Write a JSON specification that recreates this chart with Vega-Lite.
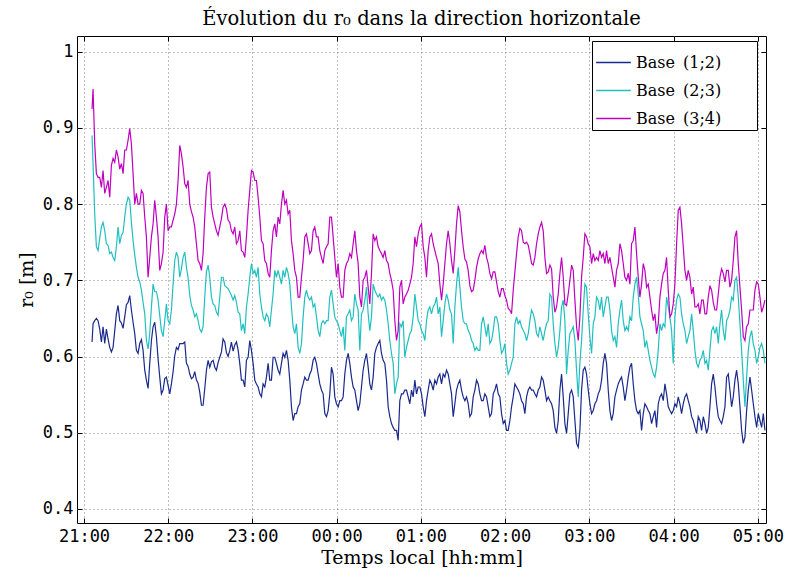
{
  "$schema": "https://vega.github.io/schema/vega-lite/v6.json",
  "width": 689,
  "height": 487,
  "autosize": {"type": "none"},
  "padding": {"left": 77, "top": 36, "right": 21, "bottom": 49},
  "background": "white",
  "title": {"text": "Évolution du r₀ dans la direction horizontale", "font": "DejaVu Serif", "fontSize": 19.5, "fontWeight": "normal", "color": "black", "anchor": "middle", "offset": 6},
  "config": {
    "view": {"stroke": "black", "strokeWidth": 1},
    "axis": {
      "labelFont": "DejaVu Sans Mono", "labelFontSize": 17, "labelColor": "black",
      "tickColor": "black", "tickWidth": 1, "domain": false,
      "titleFont": "DejaVu Serif", "titleFontSize": 19, "titleFontWeight": "normal", "titleColor": "black"
    }
  },
  "data": {"values": [
{"min":5.72,"b12":0.619,"b23":0.890,"b34":0.925},
{"min":6.44,"b12":0.643,"b23":0.853,"b34":0.951},
{"min":7.62,"b12":0.647,"b23":0.787,"b34":0.879},
{"min":8.81,"b12":0.650,"b23":0.744,"b34":0.840},
{"min":10.00,"b12":0.647,"b23":0.739,"b34":0.835},
{"min":11.19,"b12":0.636,"b23":0.755,"b34":0.835},
{"min":12.38,"b12":0.619,"b23":0.770,"b34":0.822},
{"min":13.56,"b12":0.639,"b23":0.776,"b34":0.844},
{"min":14.75,"b12":0.617,"b23":0.765,"b34":0.814},
{"min":15.94,"b12":0.636,"b23":0.748,"b34":0.822},
{"min":17.13,"b12":0.623,"b23":0.746,"b34":0.831},
{"min":18.31,"b12":0.612,"b23":0.735,"b34":0.809},
{"min":19.50,"b12":0.606,"b23":0.737,"b34":0.851},
{"min":20.69,"b12":0.612,"b23":0.730,"b34":0.860},
{"min":21.88,"b12":0.634,"b23":0.726,"b34":0.855},
{"min":23.06,"b12":0.656,"b23":0.744,"b34":0.871},
{"min":24.25,"b12":0.667,"b23":0.770,"b34":0.862},
{"min":25.44,"b12":0.647,"b23":0.748,"b34":0.846},
{"min":26.63,"b12":0.644,"b23":0.759,"b34":0.853},
{"min":27.82,"b12":0.637,"b23":0.763,"b34":0.840},
{"min":29.00,"b12":0.652,"b23":0.783,"b34":0.871},
{"min":30.19,"b12":0.668,"b23":0.800,"b34":0.871},
{"min":31.38,"b12":0.671,"b23":0.809,"b34":0.884},
{"min":32.57,"b12":0.680,"b23":0.805,"b34":0.899},
{"min":33.75,"b12":0.661,"b23":0.776,"b34":0.879},
{"min":34.94,"b12":0.645,"b23":0.752,"b34":0.840},
{"min":36.13,"b12":0.630,"b23":0.733,"b34":0.800},
{"min":37.32,"b12":0.608,"b23":0.717,"b34":0.814},
{"min":38.50,"b12":0.604,"b23":0.704,"b34":0.800},
{"min":39.69,"b12":0.617,"b23":0.698,"b34":0.800},
{"min":40.88,"b12":0.622,"b23":0.687,"b34":0.818},
{"min":42.07,"b12":0.608,"b23":0.671,"b34":0.814},
{"min":43.26,"b12":0.582,"b23":0.656,"b34":0.783},
{"min":44.44,"b12":0.569,"b23":0.621,"b34":0.757},
{"min":45.63,"b12":0.558,"b23":0.610,"b34":0.704},
{"min":46.82,"b12":0.591,"b23":0.630,"b34":0.730},
{"min":48.01,"b12":0.621,"b23":0.665,"b34":0.757},
{"min":49.19,"b12":0.639,"b23":0.695,"b34":0.774},
{"min":50.38,"b12":0.645,"b23":0.685,"b34":0.805},
{"min":51.57,"b12":0.626,"b23":0.685,"b34":0.783},
{"min":52.76,"b12":0.597,"b23":0.674,"b34":0.757},
{"min":53.94,"b12":0.573,"b23":0.654,"b34":0.713},
{"min":55.13,"b12":0.551,"b23":0.634,"b34":0.722},
{"min":56.32,"b12":0.556,"b23":0.626,"b34":0.737},
{"min":57.51,"b12":0.571,"b23":0.647,"b34":0.783},
{"min":58.69,"b12":0.573,"b23":0.669,"b34":0.800},
{"min":59.88,"b12":0.562,"b23":0.647,"b34":0.765},
{"min":61.07,"b12":0.551,"b23":0.643,"b34":0.770},
{"min":62.26,"b12":0.564,"b23":0.661,"b34":0.770},
{"min":63.45,"b12":0.580,"b23":0.695,"b34":0.779},
{"min":64.63,"b12":0.601,"b23":0.726,"b34":0.787},
{"min":65.82,"b12":0.612,"b23":0.737,"b34":0.800},
{"min":67.01,"b12":0.609,"b23":0.730,"b34":0.831},
{"min":68.20,"b12":0.617,"b23":0.704,"b34":0.877},
{"min":69.38,"b12":0.617,"b23":0.715,"b34":0.866},
{"min":70.57,"b12":0.617,"b23":0.730,"b34":0.849},
{"min":71.76,"b12":0.619,"b23":0.737,"b34":0.827},
{"min":72.95,"b12":0.591,"b23":0.717,"b34":0.822},
{"min":74.13,"b12":0.587,"b23":0.704,"b34":0.831},
{"min":75.32,"b12":0.577,"b23":0.680,"b34":0.800},
{"min":76.51,"b12":0.571,"b23":0.667,"b34":0.790},
{"min":77.70,"b12":0.573,"b23":0.661,"b34":0.783},
{"min":78.88,"b12":0.580,"b23":0.652,"b34":0.770},
{"min":80.07,"b12":0.569,"b23":0.656,"b34":0.748},
{"min":81.26,"b12":0.565,"b23":0.647,"b34":0.726},
{"min":82.45,"b12":0.553,"b23":0.636,"b34":0.722},
{"min":83.64,"b12":0.536,"b23":0.632,"b34":0.713},
{"min":84.82,"b12":0.536,"b23":0.639,"b34":0.735},
{"min":86.01,"b12":0.558,"b23":0.678,"b34":0.783},
{"min":87.20,"b12":0.582,"b23":0.711,"b34":0.822},
{"min":88.39,"b12":0.595,"b23":0.720,"b34":0.840},
{"min":89.57,"b12":0.586,"b23":0.704,"b34":0.842},
{"min":90.76,"b12":0.593,"b23":0.678,"b34":0.796},
{"min":91.95,"b12":0.595,"b23":0.669,"b34":0.783},
{"min":93.14,"b12":0.586,"b23":0.667,"b34":0.774},
{"min":94.32,"b12":0.582,"b23":0.658,"b34":0.765},
{"min":95.51,"b12":0.592,"b23":0.654,"b34":0.759},
{"min":96.70,"b12":0.599,"b23":0.678,"b34":0.770},
{"min":97.89,"b12":0.606,"b23":0.704,"b34":0.781},
{"min":99.07,"b12":0.623,"b23":0.704,"b34":0.796},
{"min":100.26,"b12":0.619,"b23":0.693,"b34":0.800},
{"min":101.45,"b12":0.605,"b23":0.691,"b34":0.794},
{"min":102.64,"b12":0.600,"b23":0.689,"b34":0.779},
{"min":103.82,"b12":0.608,"b23":0.685,"b34":0.776},
{"min":105.01,"b12":0.619,"b23":0.680,"b34":0.765},
{"min":106.20,"b12":0.607,"b23":0.674,"b34":0.761},
{"min":107.39,"b12":0.615,"b23":0.680,"b34":0.770},
{"min":108.58,"b12":0.619,"b23":0.671,"b34":0.748},
{"min":109.76,"b12":0.609,"b23":0.658,"b34":0.752},
{"min":110.95,"b12":0.591,"b23":0.656,"b34":0.765},
{"min":112.13,"b12":0.569,"b23":0.634,"b34":0.739},
{"min":113.32,"b12":0.569,"b23":0.643,"b34":0.737},
{"min":114.51,"b12":0.560,"b23":0.630,"b34":0.730},
{"min":115.70,"b12":0.595,"b23":0.665,"b34":0.757},
{"min":116.88,"b12":0.599,"b23":0.682,"b34":0.792},
{"min":118.07,"b12":0.621,"b23":0.704,"b34":0.818},
{"min":119.26,"b12":0.608,"b23":0.722,"b34":0.844},
{"min":120.45,"b12":0.591,"b23":0.709,"b34":0.842},
{"min":121.64,"b12":0.569,"b23":0.713,"b34":0.831},
{"min":122.82,"b12":0.564,"b23":0.704,"b34":0.831},
{"min":124.01,"b12":0.560,"b23":0.717,"b34":0.809},
{"min":125.20,"b12":0.551,"b23":0.682,"b34":0.783},
{"min":126.39,"b12":0.547,"b23":0.665,"b34":0.752},
{"min":127.57,"b12":0.564,"b23":0.652,"b34":0.748},
{"min":128.76,"b12":0.560,"b23":0.647,"b34":0.726},
{"min":129.95,"b12":0.573,"b23":0.656,"b34":0.722},
{"min":131.14,"b12":0.591,"b23":0.652,"b34":0.709},
{"min":132.32,"b12":0.569,"b23":0.639,"b34":0.704},
{"min":133.51,"b12":0.569,"b23":0.661,"b34":0.739},
{"min":134.70,"b12":0.599,"b23":0.682,"b34":0.765},
{"min":135.89,"b12":0.599,"b23":0.713,"b34":0.774},
{"min":137.07,"b12":0.591,"b23":0.704,"b34":0.757},
{"min":138.26,"b12":0.582,"b23":0.713,"b34":0.783},
{"min":139.45,"b12":0.577,"b23":0.704,"b34":0.774},
{"min":140.64,"b12":0.591,"b23":0.695,"b34":0.800},
{"min":141.83,"b12":0.604,"b23":0.713,"b34":0.818},
{"min":143.01,"b12":0.599,"b23":0.704,"b34":0.800},
{"min":144.20,"b12":0.608,"b23":0.717,"b34":0.805},
{"min":145.39,"b12":0.595,"b23":0.709,"b34":0.787},
{"min":146.58,"b12":0.569,"b23":0.695,"b34":0.792},
{"min":147.76,"b12":0.534,"b23":0.665,"b34":0.752},
{"min":148.95,"b12":0.516,"b23":0.639,"b34":0.735},
{"min":150.14,"b12":0.525,"b23":0.630,"b34":0.713},
{"min":151.33,"b12":0.525,"b23":0.643,"b34":0.704},
{"min":152.51,"b12":0.534,"b23":0.612,"b34":0.678},
{"min":153.70,"b12":0.538,"b23":0.604,"b34":0.678},
{"min":154.89,"b12":0.556,"b23":0.617,"b34":0.704},
{"min":156.08,"b12":0.564,"b23":0.652,"b34":0.726},
{"min":157.26,"b12":0.573,"b23":0.678,"b34":0.757},
{"min":158.45,"b12":0.569,"b23":0.687,"b34":0.761},
{"min":159.64,"b12":0.569,"b23":0.678,"b34":0.748},
{"min":160.83,"b12":0.577,"b23":0.674,"b34":0.735},
{"min":162.02,"b12":0.582,"b23":0.678,"b34":0.739},
{"min":163.20,"b12":0.595,"b23":0.665,"b34":0.765},
{"min":164.39,"b12":0.599,"b23":0.669,"b34":0.770},
{"min":165.58,"b12":0.591,"b23":0.652,"b34":0.757},
{"min":166.77,"b12":0.577,"b23":0.634,"b34":0.757},
{"min":167.95,"b12":0.564,"b23":0.626,"b34":0.739},
{"min":169.14,"b12":0.556,"b23":0.643,"b34":0.730},
{"min":170.33,"b12":0.551,"b23":0.647,"b34":0.722},
{"min":171.52,"b12":0.525,"b23":0.643,"b34":0.739},
{"min":172.70,"b12":0.521,"b23":0.647,"b34":0.744},
{"min":173.89,"b12":0.529,"b23":0.647,"b34":0.748},
{"min":175.08,"b12":0.551,"b23":0.678,"b34":0.783},
{"min":176.27,"b12":0.586,"b23":0.687,"b34":0.783},
{"min":177.45,"b12":0.577,"b23":0.669,"b34":0.757},
{"min":178.64,"b12":0.547,"b23":0.652,"b34":0.730},
{"min":179.83,"b12":0.538,"b23":0.647,"b34":0.704},
{"min":181.02,"b12":0.534,"b23":0.643,"b34":0.722},
{"min":182.21,"b12":0.542,"b23":0.634,"b34":0.691},
{"min":183.39,"b12":0.542,"b23":0.626,"b34":0.678},
{"min":184.58,"b12":0.547,"b23":0.639,"b34":0.678},
{"min":185.77,"b12":0.577,"b23":0.608,"b34":0.713},
{"min":186.96,"b12":0.595,"b23":0.652,"b34":0.722},
{"min":188.14,"b12":0.604,"b23":0.656,"b34":0.726},
{"min":189.33,"b12":0.591,"b23":0.661,"b34":0.735},
{"min":190.52,"b12":0.573,"b23":0.647,"b34":0.730},
{"min":191.71,"b12":0.560,"b23":0.652,"b34":0.748},
{"min":192.89,"b12":0.556,"b23":0.682,"b34":0.765},
{"min":194.08,"b12":0.542,"b23":0.669,"b34":0.739},
{"min":195.27,"b12":0.529,"b23":0.661,"b34":0.722},
{"min":196.46,"b12":0.538,"b23":0.608,"b34":0.678},
{"min":197.64,"b12":0.560,"b23":0.656,"b34":0.665},
{"min":198.83,"b12":0.582,"b23":0.661,"b34":0.700},
{"min":200.02,"b12":0.595,"b23":0.674,"b34":0.704},
{"min":201.21,"b12":0.604,"b23":0.691,"b34":0.713},
{"min":202.40,"b12":0.586,"b23":0.656,"b34":0.691},
{"min":203.58,"b12":0.564,"b23":0.634,"b34":0.669},
{"min":204.77,"b12":0.556,"b23":0.652,"b34":0.709},
{"min":205.96,"b12":0.573,"b23":0.695,"b34":0.761},
{"min":207.15,"b12":0.604,"b23":0.687,"b34":0.752},
{"min":208.33,"b12":0.612,"b23":0.682,"b34":0.757},
{"min":209.52,"b12":0.617,"b23":0.678,"b34":0.744},
{"min":210.71,"b12":0.621,"b23":0.682,"b34":0.739},
{"min":211.90,"b12":0.604,"b23":0.674,"b34":0.735},
{"min":213.08,"b12":0.595,"b23":0.678,"b34":0.730},
{"min":214.27,"b12":0.591,"b23":0.674,"b34":0.739},
{"min":215.46,"b12":0.569,"b23":0.661,"b34":0.726},
{"min":216.65,"b12":0.534,"b23":0.643,"b34":0.722},
{"min":217.83,"b12":0.521,"b23":0.621,"b34":0.709},
{"min":219.02,"b12":0.512,"b23":0.604,"b34":0.700},
{"min":220.21,"b12":0.507,"b23":0.591,"b34":0.687},
{"min":221.40,"b12":0.503,"b23":0.551,"b34":0.647},
{"min":222.59,"b12":0.503,"b23":0.564,"b34":0.621},
{"min":223.77,"b12":0.490,"b23":0.573,"b34":0.634},
{"min":224.96,"b12":0.542,"b23":0.643,"b34":0.691},
{"min":226.15,"b12":0.551,"b23":0.639,"b34":0.700},
{"min":227.34,"b12":0.551,"b23":0.647,"b34":0.669},
{"min":228.52,"b12":0.556,"b23":0.599,"b34":0.678},
{"min":229.71,"b12":0.556,"b23":0.612,"b34":0.682},
{"min":230.90,"b12":0.547,"b23":0.621,"b34":0.687},
{"min":232.10,"b12":0.538,"b23":0.630,"b34":0.695},
{"min":233.28,"b12":0.556,"b23":0.634,"b34":0.704},
{"min":234.47,"b12":0.547,"b23":0.652,"b34":0.722},
{"min":235.66,"b12":0.569,"b23":0.682,"b34":0.757},
{"min":236.85,"b12":0.551,"b23":0.665,"b34":0.744},
{"min":238.03,"b12":0.560,"b23":0.647,"b34":0.761},
{"min":239.22,"b12":0.560,"b23":0.643,"b34":0.770},
{"min":240.41,"b12":0.551,"b23":0.634,"b34":0.774},
{"min":241.60,"b12":0.534,"b23":0.630,"b34":0.744},
{"min":242.79,"b12":0.521,"b23":0.621,"b34":0.730},
{"min":243.97,"b12":0.542,"b23":0.647,"b34":0.704},
{"min":245.16,"b12":0.556,"b23":0.661,"b34":0.739},
{"min":246.35,"b12":0.569,"b23":0.665,"b34":0.757},
{"min":247.54,"b12":0.564,"b23":0.656,"b34":0.761},
{"min":248.72,"b12":0.556,"b23":0.665,"b34":0.748},
{"min":249.91,"b12":0.569,"b23":0.669,"b34":0.739},
{"min":251.10,"b12":0.564,"b23":0.678,"b34":0.730},
{"min":252.29,"b12":0.573,"b23":0.656,"b34":0.722},
{"min":253.47,"b12":0.577,"b23":0.665,"b34":0.695},
{"min":254.66,"b12":0.564,"b23":0.626,"b34":0.674},
{"min":255.85,"b12":0.577,"b23":0.647,"b34":0.695},
{"min":257.04,"b12":0.573,"b23":0.669,"b34":0.722},
{"min":258.22,"b12":0.582,"b23":0.682,"b34":0.748},
{"min":259.41,"b12":0.577,"b23":0.674,"b34":0.765},
{"min":260.60,"b12":0.564,"b23":0.661,"b34":0.748},
{"min":261.79,"b12":0.551,"b23":0.656,"b34":0.726},
{"min":262.98,"b12":0.521,"b23":0.617,"b34":0.709},
{"min":264.16,"b12":0.538,"b23":0.665,"b34":0.739},
{"min":265.35,"b12":0.556,"b23":0.695,"b34":0.774},
{"min":266.54,"b12":0.564,"b23":0.717,"b34":0.798},
{"min":267.73,"b12":0.569,"b23":0.691,"b34":0.790},
{"min":268.91,"b12":0.556,"b23":0.665,"b34":0.765},
{"min":270.10,"b12":0.547,"b23":0.647,"b34":0.744},
{"min":271.29,"b12":0.542,"b23":0.643,"b34":0.728},
{"min":272.48,"b12":0.547,"b23":0.643,"b34":0.724},
{"min":273.66,"b12":0.538,"b23":0.634,"b34":0.713},
{"min":274.85,"b12":0.521,"b23":0.630,"b34":0.693},
{"min":276.04,"b12":0.525,"b23":0.621,"b34":0.685},
{"min":277.23,"b12":0.547,"b23":0.617,"b34":0.687},
{"min":278.41,"b12":0.556,"b23":0.608,"b34":0.700},
{"min":279.60,"b12":0.569,"b23":0.612,"b34":0.717},
{"min":280.79,"b12":0.564,"b23":0.608,"b34":0.728},
{"min":281.98,"b12":0.551,"b23":0.608,"b34":0.735},
{"min":283.17,"b12":0.542,"b23":0.643,"b34":0.739},
{"min":284.35,"b12":0.542,"b23":0.652,"b34":0.735},
{"min":285.54,"b12":0.551,"b23":0.639,"b34":0.746},
{"min":286.73,"b12":0.547,"b23":0.626,"b34":0.730},
{"min":287.92,"b12":0.534,"b23":0.643,"b34":0.722},
{"min":289.10,"b12":0.521,"b23":0.617,"b34":0.709},
{"min":290.29,"b12":0.525,"b23":0.621,"b34":0.702},
{"min":291.48,"b12":0.551,"b23":0.634,"b34":0.711},
{"min":292.67,"b12":0.556,"b23":0.652,"b34":0.711},
{"min":293.85,"b12":0.564,"b23":0.652,"b34":0.698},
{"min":295.04,"b12":0.551,"b23":0.643,"b34":0.685},
{"min":296.23,"b12":0.547,"b23":0.621,"b34":0.678},
{"min":297.42,"b12":0.525,"b23":0.604,"b34":0.689},
{"min":298.60,"b12":0.512,"b23":0.608,"b34":0.689},
{"min":299.79,"b12":0.516,"b23":0.617,"b34":0.680},
{"min":300.98,"b12":0.503,"b23":0.591,"b34":0.674},
{"min":302.17,"b12":0.503,"b23":0.577,"b34":0.663},
{"min":303.36,"b12":0.516,"b23":0.582,"b34":0.661},
{"min":304.54,"b12":0.534,"b23":0.591,"b34":0.656},
{"min":305.73,"b12":0.547,"b23":0.599,"b34":0.687},
{"min":306.92,"b12":0.564,"b23":0.643,"b34":0.711},
{"min":308.11,"b12":0.560,"b23":0.652,"b34":0.735},
{"min":309.29,"b12":0.556,"b23":0.643,"b34":0.757},
{"min":310.48,"b12":0.551,"b23":0.647,"b34":0.768},
{"min":311.67,"b12":0.542,"b23":0.639,"b34":0.765},
{"min":312.86,"b12":0.538,"b23":0.634,"b34":0.750},
{"min":314.04,"b12":0.525,"b23":0.630,"b34":0.748},
{"min":315.23,"b12":0.547,"b23":0.621,"b34":0.750},
{"min":316.42,"b12":0.556,"b23":0.630,"b34":0.746},
{"min":317.61,"b12":0.560,"b23":0.647,"b34":0.735},
{"min":318.79,"b12":0.556,"b23":0.661,"b34":0.722},
{"min":319.98,"b12":0.556,"b23":0.656,"b34":0.720},
{"min":321.17,"b12":0.551,"b23":0.647,"b34":0.730},
{"min":322.36,"b12":0.547,"b23":0.630,"b34":0.748},
{"min":323.55,"b12":0.556,"b23":0.626,"b34":0.761},
{"min":324.73,"b12":0.560,"b23":0.639,"b34":0.770},
{"min":325.92,"b12":0.573,"b23":0.630,"b34":0.776},
{"min":327.11,"b12":0.569,"b23":0.621,"b34":0.765},
{"min":328.30,"b12":0.556,"b23":0.634,"b34":0.730},
{"min":329.48,"b12":0.542,"b23":0.643,"b34":0.709},
{"min":330.67,"b12":0.547,"b23":0.647,"b34":0.711},
{"min":331.86,"b12":0.542,"b23":0.682,"b34":0.720},
{"min":333.05,"b12":0.538,"b23":0.678,"b34":0.715},
{"min":334.23,"b12":0.529,"b23":0.643,"b34":0.678},
{"min":335.42,"b12":0.507,"b23":0.617,"b34":0.658},
{"min":336.61,"b12":0.499,"b23":0.599,"b34":0.665},
{"min":337.80,"b12":0.516,"b23":0.612,"b34":0.682},
{"min":338.98,"b12":0.556,"b23":0.634,"b34":0.709},
{"min":340.17,"b12":0.577,"b23":0.665,"b34":0.730},
{"min":341.36,"b12":0.547,"b23":0.674,"b34":0.704},
{"min":342.55,"b12":0.512,"b23":0.647,"b34":0.669},
{"min":343.74,"b12":0.499,"b23":0.577,"b34":0.667},
{"min":344.92,"b12":0.525,"b23":0.608,"b34":0.682},
{"min":346.11,"b12":0.551,"b23":0.630,"b34":0.700},
{"min":347.30,"b12":0.556,"b23":0.634,"b34":0.720},
{"min":348.49,"b12":0.547,"b23":0.639,"b34":0.713},
{"min":349.67,"b12":0.516,"b23":0.621,"b34":0.674},
{"min":350.86,"b12":0.486,"b23":0.582,"b34":0.639},
{"min":352.05,"b12":0.481,"b23":0.547,"b34":0.621},
{"min":353.23,"b12":0.503,"b23":0.591,"b34":0.652},
{"min":354.41,"b12":0.556,"b23":0.621,"b34":0.704},
{"min":355.60,"b12":0.582,"b23":0.661,"b34":0.730},
{"min":356.79,"b12":0.586,"b23":0.695,"b34":0.761},
{"min":357.98,"b12":0.577,"b23":0.691,"b34":0.757},
{"min":359.16,"b12":0.556,"b23":0.656,"b34":0.748},
{"min":360.35,"b12":0.538,"b23":0.626,"b34":0.744},
{"min":361.54,"b12":0.525,"b23":0.604,"b34":0.722},
{"min":362.73,"b12":0.529,"b23":0.643,"b34":0.735},
{"min":363.91,"b12":0.538,"b23":0.652,"b34":0.726},
{"min":365.10,"b12":0.542,"b23":0.678,"b34":0.730},
{"min":366.29,"b12":0.551,"b23":0.674,"b34":0.726},
{"min":367.48,"b12":0.556,"b23":0.661,"b34":0.739},
{"min":368.67,"b12":0.569,"b23":0.678,"b34":0.730},
{"min":369.85,"b12":0.591,"b23":0.652,"b34":0.735},
{"min":371.04,"b12":0.604,"b23":0.665,"b34":0.722},
{"min":372.23,"b12":0.591,"b23":0.678,"b34":0.739},
{"min":373.42,"b12":0.556,"b23":0.678,"b34":0.722},
{"min":374.60,"b12":0.529,"b23":0.661,"b34":0.730},
{"min":375.79,"b12":0.516,"b23":0.634,"b34":0.717},
{"min":376.98,"b12":0.525,"b23":0.621,"b34":0.704},
{"min":378.17,"b12":0.547,"b23":0.626,"b34":0.691},
{"min":379.35,"b12":0.556,"b23":0.612,"b34":0.713},
{"min":380.54,"b12":0.564,"b23":0.643,"b34":0.722},
{"min":381.73,"b12":0.569,"b23":0.661,"b34":0.748},
{"min":382.92,"b12":0.573,"b23":0.674,"b34":0.739},
{"min":384.10,"b12":0.560,"b23":0.647,"b34":0.722},
{"min":385.29,"b12":0.542,"b23":0.634,"b34":0.704},
{"min":386.48,"b12":0.556,"b23":0.639,"b34":0.700},
{"min":387.67,"b12":0.573,"b23":0.634,"b34":0.709},
{"min":388.86,"b12":0.586,"b23":0.652,"b34":0.695},
{"min":390.04,"b12":0.591,"b23":0.647,"b34":0.748},
{"min":391.23,"b12":0.564,"b23":0.678,"b34":0.752},
{"min":392.42,"b12":0.542,"b23":0.695,"b34":0.770},
{"min":393.61,"b12":0.529,"b23":0.704,"b34":0.735},
{"min":394.79,"b12":0.525,"b23":0.682,"b34":0.704},
{"min":395.98,"b12":0.529,"b23":0.652,"b34":0.678},
{"min":397.17,"b12":0.503,"b23":0.643,"b34":0.695},
{"min":398.36,"b12":0.525,"b23":0.634,"b34":0.722},
{"min":399.54,"b12":0.538,"b23":0.612,"b34":0.713},
{"min":400.73,"b12":0.534,"b23":0.621,"b34":0.691},
{"min":401.92,"b12":0.529,"b23":0.608,"b34":0.695},
{"min":403.11,"b12":0.525,"b23":0.595,"b34":0.678},
{"min":404.29,"b12":0.512,"b23":0.586,"b34":0.661},
{"min":405.48,"b12":0.521,"b23":0.577,"b34":0.647},
{"min":406.67,"b12":0.529,"b23":0.573,"b34":0.656},
{"min":407.86,"b12":0.507,"b23":0.586,"b34":0.630},
{"min":409.05,"b12":0.538,"b23":0.608,"b34":0.643},
{"min":410.23,"b12":0.547,"b23":0.643,"b34":0.678},
{"min":411.42,"b12":0.551,"b23":0.634,"b34":0.695},
{"min":412.61,"b12":0.542,"b23":0.643,"b34":0.709},
{"min":413.80,"b12":0.564,"b23":0.639,"b34":0.713},
{"min":414.98,"b12":0.551,"b23":0.678,"b34":0.730},
{"min":416.17,"b12":0.534,"b23":0.665,"b34":0.687},
{"min":417.36,"b12":0.529,"b23":0.652,"b34":0.652},
{"min":418.55,"b12":0.525,"b23":0.634,"b34":0.656},
{"min":419.73,"b12":0.529,"b23":0.591,"b34":0.669},
{"min":420.92,"b12":0.538,"b23":0.652,"b34":0.695},
{"min":422.11,"b12":0.534,"b23":0.674,"b34":0.748},
{"min":423.30,"b12":0.547,"b23":0.682,"b34":0.792},
{"min":424.48,"b12":0.538,"b23":0.678,"b34":0.796},
{"min":425.67,"b12":0.525,"b23":0.656,"b34":0.774},
{"min":426.86,"b12":0.538,"b23":0.643,"b34":0.744},
{"min":428.05,"b12":0.547,"b23":0.634,"b34":0.713},
{"min":429.24,"b12":0.551,"b23":0.617,"b34":0.700},
{"min":430.42,"b12":0.542,"b23":0.626,"b34":0.713},
{"min":431.61,"b12":0.534,"b23":0.634,"b34":0.704},
{"min":432.80,"b12":0.521,"b23":0.656,"b34":0.682},
{"min":433.99,"b12":0.516,"b23":0.634,"b34":0.691},
{"min":435.17,"b12":0.507,"b23":0.608,"b34":0.665},
{"min":436.36,"b12":0.499,"b23":0.591,"b34":0.665},
{"min":437.55,"b12":0.521,"b23":0.586,"b34":0.669},
{"min":438.74,"b12":0.516,"b23":0.595,"b34":0.656},
{"min":439.92,"b12":0.503,"b23":0.599,"b34":0.674},
{"min":441.11,"b12":0.521,"b23":0.608,"b34":0.674},
{"min":442.30,"b12":0.512,"b23":0.591,"b34":0.656},
{"min":443.49,"b12":0.499,"b23":0.595,"b34":0.656},
{"min":444.67,"b12":0.507,"b23":0.582,"b34":0.678},
{"min":445.86,"b12":0.534,"b23":0.608,"b34":0.693},
{"min":447.05,"b12":0.564,"b23":0.634,"b34":0.687},
{"min":448.24,"b12":0.577,"b23":0.639,"b34":0.671},
{"min":449.43,"b12":0.560,"b23":0.630,"b34":0.661},
{"min":450.61,"b12":0.538,"b23":0.639,"b34":0.661},
{"min":451.80,"b12":0.521,"b23":0.617,"b34":0.682},
{"min":452.99,"b12":0.516,"b23":0.643,"b34":0.704},
{"min":454.18,"b12":0.512,"b23":0.661,"b34":0.715},
{"min":455.36,"b12":0.521,"b23":0.634,"b34":0.709},
{"min":456.55,"b12":0.534,"b23":0.621,"b34":0.698},
{"min":457.74,"b12":0.573,"b23":0.647,"b34":0.713},
{"min":458.93,"b12":0.577,"b23":0.652,"b34":0.713},
{"min":460.11,"b12":0.556,"b23":0.661,"b34":0.691},
{"min":461.30,"b12":0.534,"b23":0.678,"b34":0.700},
{"min":462.49,"b12":0.547,"b23":0.674,"b34":0.726},
{"min":463.68,"b12":0.569,"b23":0.700,"b34":0.757},
{"min":464.86,"b12":0.582,"b23":0.704,"b34":0.765},
{"min":466.05,"b12":0.564,"b23":0.678,"b34":0.722},
{"min":467.24,"b12":0.534,"b23":0.643,"b34":0.691},
{"min":468.43,"b12":0.503,"b23":0.608,"b34":0.661},
{"min":469.62,"b12":0.486,"b23":0.569,"b34":0.626},
{"min":470.80,"b12":0.494,"b23":0.534,"b34":0.621},
{"min":471.99,"b12":0.529,"b23":0.573,"b34":0.639},
{"min":473.18,"b12":0.556,"b23":0.608,"b34":0.643},
{"min":474.37,"b12":0.573,"b23":0.626,"b34":0.661},
{"min":475.55,"b12":0.556,"b23":0.634,"b34":0.661},
{"min":476.74,"b12":0.538,"b23":0.617,"b34":0.661},
{"min":477.93,"b12":0.521,"b23":0.608,"b34":0.687},
{"min":479.12,"b12":0.507,"b23":0.591,"b34":0.698},
{"min":480.30,"b12":0.525,"b23":0.599,"b34":0.695},
{"min":481.49,"b12":0.516,"b23":0.612,"b34":0.678},
{"min":482.68,"b12":0.507,"b23":0.617,"b34":0.658},
{"min":483.87,"b12":0.525,"b23":0.608,"b34":0.665},
{"min":485.05,"b12":0.503,"b23":0.591,"b34":0.674}
  ]},
  "transform": [{"fold": ["b12", "b23", "b34"], "as": ["base", "r0"]}],
  "layer": [
    {
      "mark": {"type": "line", "strokeWidth": 1.2, "clip": true},
      "encoding": {
        "x": {"field": "min", "type": "quantitative",
          "scale": {"domain": [-5.0, 485.8], "nice": false, "zero": false},
          "axis": {"orient": "bottom", "values": [0, 60, 120, 180, 240, 300, 360, 420, 480],
            "labelExpr": "timeFormat(datetime(2000, 0, 1, 21, datum.value), '%H:%M')",
            "grid": true, "gridDash": [1, 3], "gridColor": "#808080", "gridWidth": 1,
            "tickSize": -5, "labelPadding": 10, "labelFlush": false,
            "title": "Temps local [hh:mm]", "titlePadding": 4}},
        "y": {"field": "r0", "type": "quantitative",
          "scale": {"domain": [0.3815, 1.0206], "nice": false, "zero": false},
          "axis": {"orient": "left", "values": [0.4, 0.5, 0.6, 0.7, 0.8, 0.9, 1],
            "format": ".1~f",
            "grid": true, "gridDash": [1, 3], "gridColor": "#808080", "gridWidth": 1,
            "tickSize": -5, "labelPadding": 9,
            "title": "r₀ [m]", "titlePadding": 6}},
        "color": {"field": "base", "type": "nominal",
          "scale": {"domain": ["b12", "b23", "b34"], "range": ["#19298c", "#20c0c0", "#bf00bf"]},
          "legend": {"orient": "none", "legendX": 515, "legendY": 5, "title": null,
            "labelExpr": "datum.value == 'b12' ? 'Base\u2002(1;2)\u2002\u2002\u2002\u2002\u200b' : datum.value == 'b23' ? 'Base\u2002(2;3)\u2002\u2002\u2002\u2002\u200b' : 'Base\u2002(3;4)\u2002\u2002\u2002\u2002\u200b'",
            "symbolType": "stroke", "symbolSize": 1200, "symbolStrokeWidth": 1.5,
            "labelFont": "DejaVu Serif", "labelFontSize": 16, "labelColor": "black",
            "labelOffset": 4, "rowPadding": 1, "padding": 3,
            "fillColor": "white", "strokeColor": "black"}}
      }
    },
    {
      "mark": {"type": "line", "opacity": 0},
      "encoding": {
        "x": {"field": "min", "type": "quantitative",
          "axis": {"orient": "top", "values": [0, 60, 120, 180, 240, 300, 360, 420, 480],
            "labels": false, "grid": false, "tickSize": -5, "title": null}},
        "y": {"field": "r0", "type": "quantitative",
          "axis": {"orient": "right", "values": [0.4, 0.5, 0.6, 0.7, 0.8, 0.9, 1],
            "labels": false, "grid": false, "tickSize": -5, "title": null}},
        "detail": {"field": "base"}
      }
    }
  ],
  "resolve": {"axis": {"x": "independent", "y": "independent"}}
}
